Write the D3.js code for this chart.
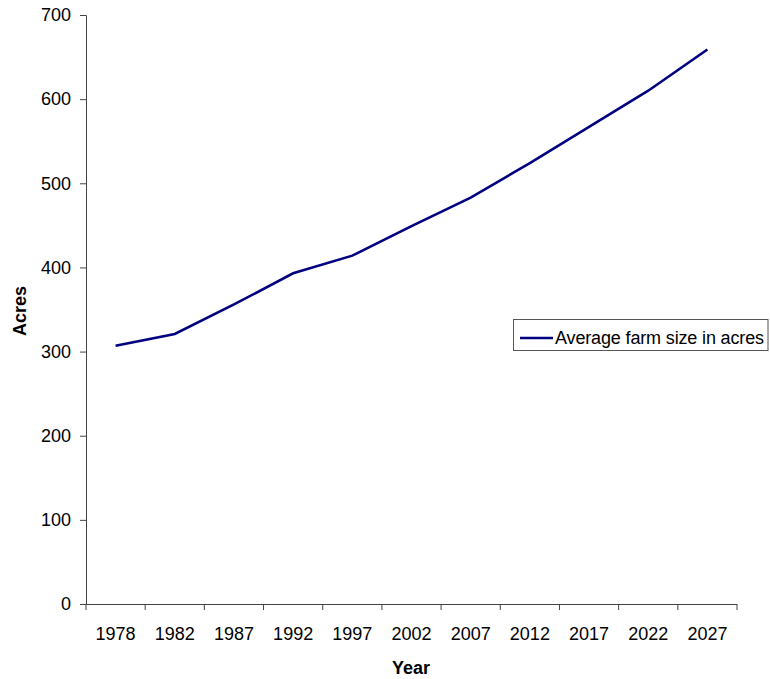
<!DOCTYPE html>
<html><head><meta charset="utf-8">
<script src="https://cdn.jsdelivr.net/npm/d3@7"></script>
<style>body{margin:0;background:#fff}svg{display:block;font-family:"Liberation Sans",Arial,sans-serif}</style>
</head><body>
<script>
const years = ["1978","1982","1987","1992","1997","2002","2007","2012","2017","2022","2027"];
const acres = [307, 321, 356, 393, 414, 449, 483, 524, 567, 610, 659];
const yTicks = [0,100,200,300,400,500,600,700];
const seriesName = "Average farm size in acres";

(function(){
const W=770,H=679;
const svg=d3.select("body").append("svg").attr("width",W).attr("height",H);
const mL=86,mR=737,mT=15,mB=604;
const x=d3.scaleBand().domain(years).range([mL,mR]);
const y=d3.scaleLinear().domain([0,700]).range([mB,mT]);

const gy=svg.append("g").attr("transform",`translate(${mL},0)`)
  .call(d3.axisLeft(y).tickValues(yTicks).tickSize(6).tickPadding(9));
gy.selectAll("text").attr("font-size",18).attr("fill","#000").attr("font-family","Liberation Sans, Arial, sans-serif");
gy.selectAll("line,path").attr("stroke","#444");

const gx=svg.append("g").attr("transform",`translate(0,${mB})`)
  .call(d3.axisBottom(x).tickSize(0).tickPadding(23));
gx.selectAll("text").attr("font-size",18).attr("fill","#000").attr("font-family","Liberation Sans, Arial, sans-serif");
gx.select("path").attr("stroke","#444").attr("d",`M${mL},0.5H${mR}`);
const bounds=years.map(d=>x(d)).concat([mR]);
gx.selectAll(".bt").data(bounds).enter().append("line")
  .attr("x1",d=>d).attr("x2",d=>d).attr("y1",0).attr("y2",6).attr("stroke","#444");

const line=d3.line().x((d,i)=>x(years[i])+x.bandwidth()/2).y(d=>y(d));
svg.append("path").datum(acres).attr("d",line).attr("fill","none")
  .attr("stroke","#000080").attr("stroke-width",2.6);

svg.append("text").attr("transform","translate(26,311) rotate(-90)").attr("text-anchor","middle")
  .attr("font-size",18).attr("font-weight","bold").text("Acres");
svg.append("text").attr("x",411).attr("y",674).attr("text-anchor","middle")
  .attr("font-size",18).attr("font-weight","bold").text("Year");

const lg=svg.append("g");
lg.append("rect").attr("x",513.5).attr("y",319.5).attr("width",254.5).attr("height",31)
  .attr("fill","#fff").attr("stroke","#555");
lg.append("line").attr("x1",520).attr("x2",553).attr("y1",338).attr("y2",338)
  .attr("stroke","#000080").attr("stroke-width",2.6);
lg.append("text").attr("x",555).attr("y",344).attr("font-size",18).attr("textLength",209).text(seriesName);
})();
</script>
</body></html>
